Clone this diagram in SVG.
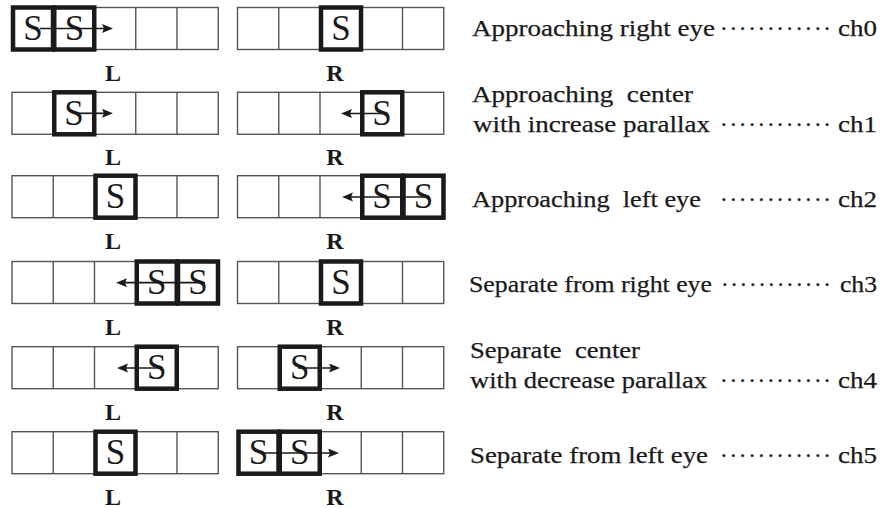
<svg xmlns="http://www.w3.org/2000/svg" width="883" height="508" viewBox="0 0 883 508" font-family="'Liberation Serif', 'Times New Roman', Times, serif">
<defs>
<style>
.strip{fill:none;stroke:#555;stroke-width:1.4}
.thin{stroke:#555;stroke-width:1.4}
.thick{fill:none;stroke:#1a1a1a;stroke-width:4.5}
.s{font-family:'Liberation Serif','Times New Roman',serif;font-size:35px;fill:#1a1a1a;text-anchor:middle}
.lab{font-family:'Liberation Serif','Times New Roman',serif;font-size:24px;font-weight:bold;fill:#1a1a1a;text-anchor:middle}
.desc{font-family:'Liberation Serif','Times New Roman',serif;font-size:23px;fill:#1a1a1a;stroke:#1a1a1a;stroke-width:0.25;white-space:pre}
.arr{stroke:#1a1a1a;stroke-width:1.7;fill:none;marker-end:url(#ah)}
</style>
<marker id="ah" markerUnits="userSpaceOnUse" markerWidth="12" markerHeight="10" refX="3" refY="4.5" orient="auto">
<path d="M0,0 L11,4.5 L0,9 L2,4.5 Z" fill="#1a1a1a"/>
</marker>
<g id="stripL">
<rect class="strip" x="12" y="0" width="206.25" height="42"/>
<line class="thin" x1="53.25" y1="0" x2="53.25" y2="42"/>
<line class="thin" x1="94.5" y1="0" x2="94.5" y2="42"/>
<line class="thin" x1="135.75" y1="0" x2="135.75" y2="42"/>
<line class="thin" x1="177" y1="0" x2="177" y2="42"/>
</g>
<g id="stripR">
<rect class="strip" x="237.5" y="0" width="206.25" height="42"/>
<line class="thin" x1="278.75" y1="0" x2="278.75" y2="42"/>
<line class="thin" x1="320" y1="0" x2="320" y2="42"/>
<line class="thin" x1="361.25" y1="0" x2="361.25" y2="42"/>
<line class="thin" x1="402.5" y1="0" x2="402.5" y2="42"/>
</g>
</defs>
<rect width="883" height="508" fill="#fff"/>

<g id="row0">
<use href="#stripL" y="7.5"/>
<use href="#stripR" y="7.5"/>
<rect class="thick" x="13" y="7.5" width="40" height="42"/>
<rect class="thick" x="54.25" y="7.5" width="40" height="42"/>
<rect class="thick" x="321" y="7.5" width="40" height="42"/>
<text class="s" x="33" y="40">S</text>
<text class="s" x="74.5" y="40">S</text>
<text class="s" x="341" y="40">S</text>
<text class="lab" x="113" y="80.5">L</text>
<text class="lab" x="335" y="80.5">R</text>
<text class="desc" x="472" y="36" textLength="243" lengthAdjust="spacingAndGlyphs">Approaching right eye</text>
<text class="desc" x="720" y="36" textLength="111">············</text>
<text class="desc" x="838" y="36" textLength="39" lengthAdjust="spacingAndGlyphs">ch0</text>
</g>

<g id="row1">
<use href="#stripL" y="92.3"/>
<use href="#stripR" y="92.3"/>
<rect class="thick" x="54.25" y="92.3" width="40" height="42"/>
<rect class="thick" x="362.25" y="92.3" width="40" height="42"/>
<text class="s" x="74" y="124.8">S</text>
<text class="s" x="382" y="124.8">S</text>
<text class="lab" x="113" y="165.3">L</text>
<text class="lab" x="335" y="165.3">R</text>
<text class="desc" x="472" y="101.7" textLength="221" lengthAdjust="spacingAndGlyphs">Approaching  center</text>
<text class="desc" x="473" y="131.7" textLength="237" lengthAdjust="spacingAndGlyphs">with increase parallax</text>
<text class="desc" x="720" y="131.7" textLength="111">············</text>
<text class="desc" x="838" y="131.7" textLength="39" lengthAdjust="spacingAndGlyphs">ch1</text>
</g>

<g id="row2">
<use href="#stripL" y="175.7"/>
<use href="#stripR" y="175.7"/>
<rect class="thick" x="95.5" y="175.7" width="40" height="42"/>
<rect class="thick" x="362.25" y="175.7" width="40" height="42"/>
<rect class="thick" x="403.5" y="175.7" width="40" height="42"/>
<text class="s" x="115.5" y="208.2">S</text>
<text class="s" x="382" y="208.2">S</text>
<text class="s" x="423.5" y="208.2">S</text>
<text class="lab" x="113" y="248.7">L</text>
<text class="lab" x="335" y="248.7">R</text>
<text class="desc" x="472" y="206.7" textLength="229" lengthAdjust="spacingAndGlyphs">Approaching  left eye</text>
<text class="desc" x="720" y="206.7" textLength="111">············</text>
<text class="desc" x="838" y="206.7" textLength="39" lengthAdjust="spacingAndGlyphs">ch2</text>
</g>

<g id="row3">
<use href="#stripL" y="261.5"/>
<use href="#stripR" y="261.5"/>
<rect class="thick" x="136.75" y="261.5" width="40" height="42"/>
<rect class="thick" x="178" y="261.5" width="40" height="42"/>
<rect class="thick" x="321" y="261.5" width="40" height="42"/>
<text class="s" x="156.75" y="294">S</text>
<text class="s" x="198" y="294">S</text>
<text class="s" x="341" y="294">S</text>
<text class="lab" x="113" y="334.5">L</text>
<text class="lab" x="335" y="334.5">R</text>
<text class="desc" x="469" y="291.7" textLength="243" lengthAdjust="spacingAndGlyphs">Separate from right eye</text>
<text class="desc" x="721" y="291.7" textLength="110">············</text>
<text class="desc" x="840" y="291.7" textLength="37" lengthAdjust="spacingAndGlyphs">ch3</text>
</g>

<g id="row4">
<use href="#stripL" y="346.7"/>
<use href="#stripR" y="346.7"/>
<rect class="thick" x="136.75" y="346.7" width="40" height="42"/>
<rect class="thick" x="279.75" y="346.7" width="40" height="42"/>
<text class="s" x="156.75" y="379.2">S</text>
<text class="s" x="299.75" y="379.2">S</text>
<text class="lab" x="113" y="419.7">L</text>
<text class="lab" x="335" y="419.7">R</text>
<text class="desc" x="470" y="358" textLength="170" lengthAdjust="spacingAndGlyphs">Separate  center</text>
<text class="desc" x="470" y="388" textLength="237" lengthAdjust="spacingAndGlyphs">with decrease parallax</text>
<text class="desc" x="720" y="388" textLength="111">············</text>
<text class="desc" x="838" y="388" textLength="39" lengthAdjust="spacingAndGlyphs">ch4</text>
</g>

<g id="row5">
<use href="#stripL" y="431.7"/>
<use href="#stripR" y="431.7"/>
<rect class="thick" x="95.5" y="431.7" width="40" height="42"/>
<rect class="thick" x="238.5" y="431.7" width="40" height="42"/>
<rect class="thick" x="279.75" y="431.7" width="40" height="42"/>
<text class="s" x="115.5" y="464.2">S</text>
<text class="s" x="258.5" y="464.2">S</text>
<text class="s" x="299.75" y="464.2">S</text>
<text class="lab" x="113" y="504.7">L</text>
<text class="lab" x="335" y="504.7">R</text>
<text class="desc" x="470" y="463" textLength="238" lengthAdjust="spacingAndGlyphs">Separate from left eye</text>
<text class="desc" x="720" y="463" textLength="111">············</text>
<text class="desc" x="838" y="463" textLength="39" lengthAdjust="spacingAndGlyphs">ch5</text>
</g>

<g id="connectors">
<line class="arr" x1="40" y1="28.5" x2="105" y2="28.5"/>
<line class="arr" x1="78" y1="113.3" x2="105" y2="113.3"/>
<line class="arr" x1="388" y1="113.5" x2="349" y2="113.5"/>
<line class="arr" x1="430" y1="197" x2="350" y2="197"/>
<line class="arr" x1="205" y1="282.7" x2="124" y2="282.7"/>
<line class="arr" x1="163" y1="368" x2="125" y2="368"/>
<line class="arr" x1="298" y1="368" x2="332" y2="368"/>
<line class="arr" x1="263" y1="453" x2="331" y2="453"/>
</g>
</svg>
